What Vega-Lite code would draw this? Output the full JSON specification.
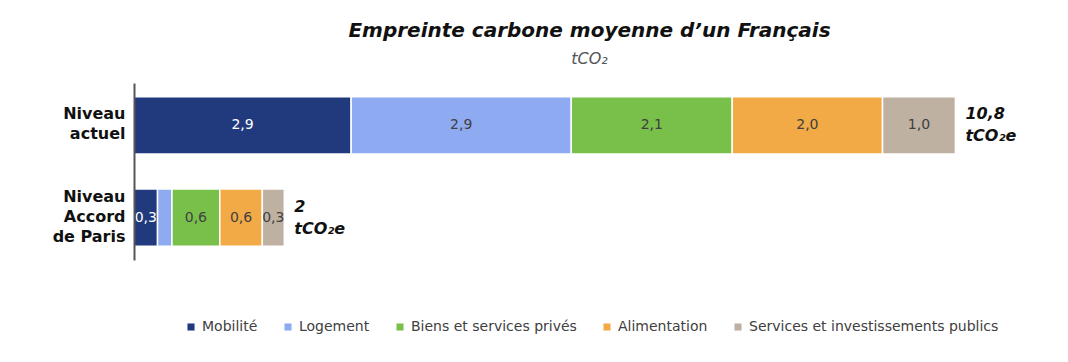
{
  "$schema": "https://vega.github.io/schema/vega-lite/v6.json",
  "width": 911,
  "height": 177,
  "autosize": {"type": "none"},
  "padding": {"left": 134, "top": 83, "right": 23, "bottom": 102},
  "background": "white",
  "config": {
    "locale": {"number": {"decimal": ",", "thousands": " ", "grouping": [3], "currency": ["", "€"]}},
    "view": {"stroke": null},
    "font": "DejaVu Sans"
  },
  "title": {
    "text": "Empreinte carbone moyenne d’un Français",
    "subtitle": "tCO₂",
    "fontSize": 20,
    "fontStyle": "italic",
    "fontWeight": "bold",
    "color": "#111111",
    "subtitleFontSize": 16,
    "subtitleFontStyle": "italic",
    "subtitleColor": "#555555",
    "subtitlePadding": 10,
    "anchor": "middle",
    "frame": "group",
    "offset": 16
  },
  "datasets": {
    "parts": [
      {"niveau": "Niveau|actuel", "cat": "Mobilité", "k": 1, "value": 2.86},
      {"niveau": "Niveau|actuel", "cat": "Logement", "k": 2, "value": 2.90},
      {"niveau": "Niveau|actuel", "cat": "Biens et services privés", "k": 3, "value": 2.12},
      {"niveau": "Niveau|actuel", "cat": "Alimentation", "k": 4, "value": 1.98},
      {"niveau": "Niveau|actuel", "cat": "Services et investissements publics", "k": 5, "value": 0.96},
      {"niveau": "Niveau|Accord|de Paris", "cat": "Mobilité", "k": 1, "value": 0.31},
      {"niveau": "Niveau|Accord|de Paris", "cat": "Logement", "k": 2, "value": 0.19},
      {"niveau": "Niveau|Accord|de Paris", "cat": "Biens et services privés", "k": 3, "value": 0.63},
      {"niveau": "Niveau|Accord|de Paris", "cat": "Alimentation", "k": 4, "value": 0.56},
      {"niveau": "Niveau|Accord|de Paris", "cat": "Services et investissements publics", "k": 5, "value": 0.29}
    ],
    "totals": [
      {"niveau": "Niveau|actuel", "total": 10.82, "label": "10,8|tCO₂e"},
      {"niveau": "Niveau|Accord|de Paris", "total": 1.98, "label": "2|tCO₂e"}
    ]
  },
  "encoding": {
    "y": {
      "field": "niveau",
      "type": "nominal",
      "sort": null,
      "scale": {"paddingInner": 0.38, "paddingOuter": 0.15},
      "axis": {
        "title": null,
        "ticks": false,
        "zindex": 1,
        "labelExpr": "split(datum.label, '|')",
        "labelFontSize": 16,
        "labelFontWeight": "bold",
        "labelColor": "#111111",
        "labelPadding": 9,
        "labelLineHeight": 20,
        "labelOffset": {"condition": {"test": "indexof(datum.label, 'Paris') >= 0", "value": -21}, "value": -11},
        "domainColor": "#555555",
        "domainWidth": 2
      }
    }
  },
  "layer": [
    {
      "data": {"name": "parts"},
      "transform": [
        {"stack": "value", "groupby": ["niveau"], "sort": [{"field": "k", "order": "ascending"}], "as": ["v0", "v1"]}
      ],
      "mark": {"type": "bar", "stroke": "white", "strokeWidth": 1.5},
      "encoding": {
        "x": {"field": "v0", "type": "quantitative", "scale": {"domain": [0, 12]}, "axis": null},
        "x2": {"field": "v1"},
        "color": {
          "field": "cat",
          "type": "nominal",
          "scale": {
            "domain": ["Mobilité", "Logement", "Biens et services privés", "Alimentation", "Services et investissements publics"],
            "range": ["#213a7d", "#8eabf2", "#79c04b", "#f2aa46", "#bfb1a2"]
          },
          "legend": {
            "orient": "none",
            "legendX": 50,
            "legendY": 237,
            "direction": "horizontal",
            "title": null,
            "symbolType": "square",
            "symbolSize": 50,
            "symbolStrokeWidth": 0,
            "labelFontSize": 14,
            "labelLimit": 400,
            "labelColor": "#404040",
            "columnPadding": 23
          }
        }
      }
    },
    {
      "data": {"name": "parts"},
      "transform": [
        {"stack": "value", "groupby": ["niveau"], "sort": [{"field": "k", "order": "ascending"}], "as": ["v0", "v1"]},
        {"filter": "datum.value >= 0.25"},
        {"calculate": "(datum.v0 + datum.v1) / 2", "as": "mid"}
      ],
      "mark": {"type": "text", "fontSize": 14, "baseline": "middle", "align": "center"},
      "encoding": {
        "x": {"field": "mid", "type": "quantitative"},
        "text": {"field": "value", "type": "quantitative", "format": ".1f"},
        "color": {"condition": {"test": "datum.cat === 'Mobilité'", "value": "white"}, "value": "#404040"}
      }
    },
    {
      "data": {"name": "totals"},
      "mark": {"type": "text", "align": "left", "baseline": "middle", "dx": 10, "dy": -11, "fontSize": 16, "fontWeight": "bold", "fontStyle": "italic", "lineBreak": "|", "lineHeight": 22, "color": "#111111"},
      "encoding": {
        "x": {"field": "total", "type": "quantitative"},
        "text": {"field": "label"}
      }
    }
  ]
}
